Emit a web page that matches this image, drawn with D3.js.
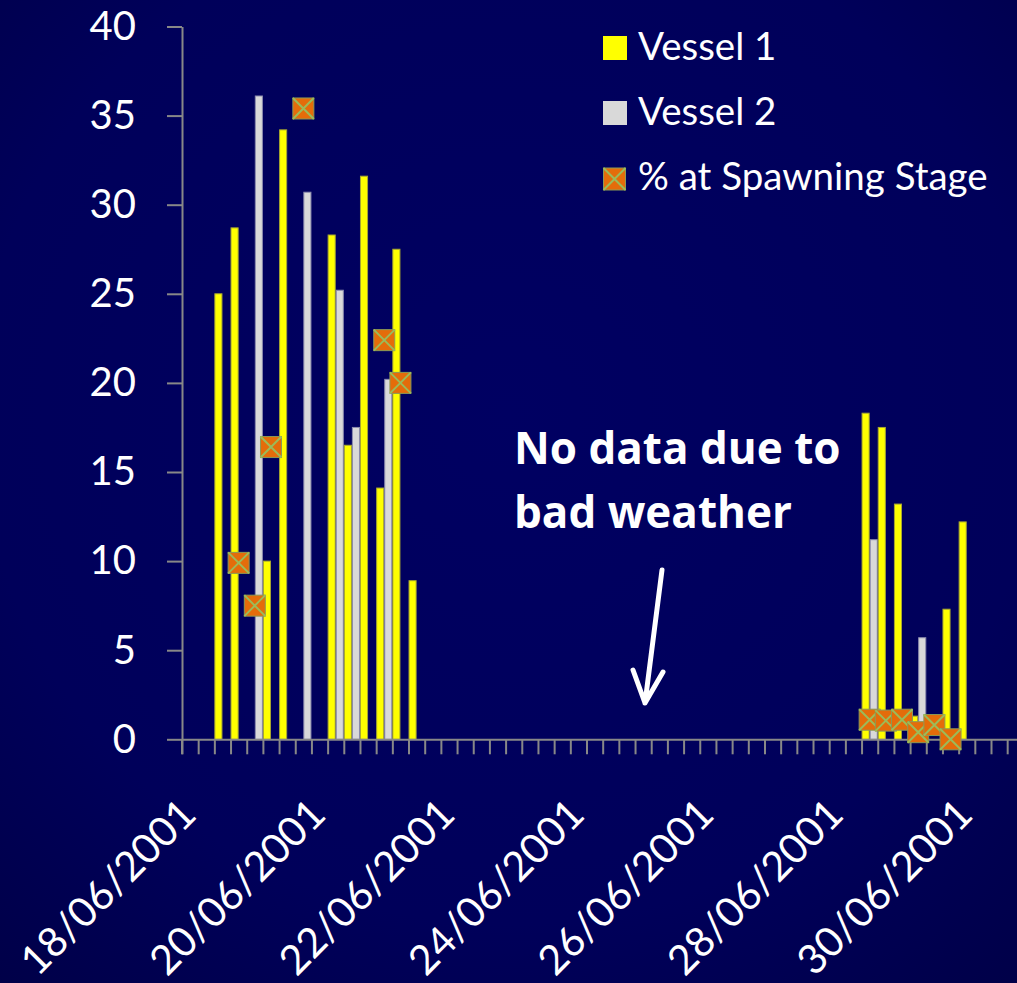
<!DOCTYPE html>
<html>
<head>
<meta charset="utf-8">
<script src="https://cdn.jsdelivr.net/npm/d3@7"></script>
<style>
  html, body { margin: 0; padding: 0; background: #000050; }
  svg { display: block; }
  text { font-family: Lato, "Open Sans", sans-serif; fill: #ffffff; }
  text.note { font-family: "Open Sans", Lato, sans-serif; font-weight: bold; font-size: 44px; }
</style>
</head>
<body>
<svg id="chart" width="1017" height="983"></svg>
<script>
// Sampling slots every 6 hours, 17/06/2001 18:00 to 30/06/2001 12:00
const slotStart = new Date(2001, 5, 17, 18);
const slotEnd = new Date(2001, 5, 30, 18);
const slotFormat = d3.timeFormat("%d/%m/%Y %H:%M");

// Catch per slot (null = no sample)
const vessel1 = [
  null, null, 25.0, 28.7, null, 10.0, 34.2, null, null, 28.3,
  16.5, 31.6, 14.1, 27.5, 8.9, null, null, null, null, null,
  null, null, null, null, null, null, null, null, null, null,
  null, null, null, null, null, null, null, null, null, null,
  null, null, 18.3, 17.5, 13.2, 1.3, null, 7.3, 12.2, null,
  null, null
];
const vessel2 = [
  null, null, null, null, 36.1, null, null, 30.7, null, 25.2,
  17.5, null, 20.2, null, null, null, null, null, null, null,
  null, null, null, null, null, null, null, null, null, null,
  null, null, null, null, null, null, null, null, null, null,
  null, null, 11.2, null, null, 5.7, null, null, null, null,
  null, null
];
const spawningPct = [
  null, null, null, 9.9, 7.5, 16.4, null, 35.4, null, null,
  null, null, 22.4, 20.0, null, null, null, null, null, null,
  null, null, null, null, null, null, null, null, null, null,
  null, null, null, null, null, null, null, null, null, null,
  null, null, 1.1, 1.05, 1.1, 0.4, 0.8, 0.0, null, null,
  null, null
];
const yTicks = [0, 5, 10, 15, 20, 25, 30, 35, 40];
const dateLabels = ["18/06/2001", "20/06/2001", "22/06/2001", "24/06/2001",
                    "26/06/2001", "28/06/2001", "30/06/2001"];
const seriesNames = ["Vessel 1", "Vessel 2", "% at Spawning Stage"];

const slots = d3.timeHour.every(6).range(slotStart, slotEnd).map(slotFormat);

const svg = d3.select("#chart");
const W = 1017, H = 983;

// Background
const defs = svg.append("defs");
const bg = defs.append("radialGradient").attr("id", "bg")
  .attr("cx", "50%").attr("cy", "42%").attr("r", "80%");
bg.append("stop").attr("offset", "0%").attr("stop-color", "#000062");
bg.append("stop").attr("offset", "65%").attr("stop-color", "#00005a");
bg.append("stop").attr("offset", "100%").attr("stop-color", "#000046");
svg.append("rect").attr("width", W).attr("height", H).attr("fill", "url(#bg)");

const x0 = 182, slotW = 16.18;
const x = d3.scaleBand().domain(slots).range([x0, x0 + slots.length * slotW])
  .paddingInner(0).paddingOuter(0);
const xEdge = d3.scaleLinear().domain([0, slots.length]).range(x.range());
const y = d3.scaleLinear().domain([0, 40]).range([739.3, 26.5]);
const sub = d3.scaleBand().domain(["v1", "v2"]).range([0, x.bandwidth()]);

const axisColor = "#888888";

// Bars
const g = svg.append("g");
const barData = [];
slots.forEach((s, i) => {
  if (vessel1[i] != null) barData.push({ slot: s, key: "v1", v: vessel1[i] });
  if (vessel2[i] != null) barData.push({ slot: s, key: "v2", v: vessel2[i] });
});
g.selectAll("rect.bar").data(barData).join("rect")
  .attr("class", "bar")
  .attr("x", d => x(d.slot) + sub(d.key) + 0.5)
  .attr("width", sub.bandwidth() - 1)
  .attr("y", d => y(d.v))
  .attr("height", d => y(0) - y(d.v))
  .attr("fill", d => d.key === "v1" ? "#ffff00" : "#d9d9d9")
  .attr("stroke", d => d.key === "v1" ? "#a8a830" : "#8c8cae")
  .attr("stroke-width", 1);

// Y axis
const yAxis = svg.append("g").attr("transform", `translate(${x0},0)`)
  .call(d3.axisLeft(y).tickValues(yTicks).tickSize(15).tickPadding(31).tickSizeOuter(0));
yAxis.select(".domain").attr("stroke", axisColor).attr("stroke-width", 2);
yAxis.selectAll(".tick line").attr("stroke", axisColor).attr("stroke-width", 2);
yAxis.selectAll(".tick text").attr("fill", "#fff")
  .style("font-family", "Lato, sans-serif").style("font-size", "40px");
yAxis.append("line").attr("x1", 0).attr("x2", 0).attr("y1", y(0)).attr("y2", y(0) + 15)
  .attr("stroke", axisColor).attr("stroke-width", 2);

// X axis (tick at each slot boundary)
const xAxis = svg.append("g").attr("transform", `translate(0,${y(0)})`)
  .call(d3.axisBottom(xEdge).tickValues(d3.range(slots.length + 1))
    .tickSize(15).tickFormat("").tickSizeOuter(0));
xAxis.select(".domain").attr("stroke", axisColor).attr("stroke-width", 2);
xAxis.selectAll(".tick line").attr("stroke", axisColor).attr("stroke-width", 2);

// Date labels, rotated
svg.append("g").selectAll("text").data(dateLabels).join("text")
  .each(function (d) {
    const s = d + " 00:00";
    const cx = x(s) + x.bandwidth() / 2 - 8;
    d3.select(this)
      .attr("transform", `translate(${cx},816.7) rotate(-45)`)
      .attr("text-anchor", "end")
      .style("font-size", "41px")
      .text(d);
  });

// Spawning markers: orange square with green cross
function marker(sel, size) {
  const h = size / 2;
  sel.append("rect").attr("x", -h).attr("y", -h).attr("width", size).attr("height", size)
    .attr("fill", "#e46c0a").attr("stroke", "#8c9a55").attr("stroke-width", 1);
  sel.append("path").attr("d", `M${-h},${-h}L${h},${h}M${h},${-h}L${-h},${h}`)
    .attr("stroke", "#9bbb59").attr("stroke-width", 2).attr("fill", "none");
}
const markerData = slots.map((s, i) => ({ slot: s, v: spawningPct[i] })).filter(d => d.v != null);
svg.append("g").selectAll("g").data(markerData).join("g")
  .attr("transform", d => `translate(${x(d.slot) + x.bandwidth() / 2},${y(d.v)})`)
  .each(function () { marker(d3.select(this), 21); });

// Legend
const legend = svg.append("g");
const rows = [
  { name: seriesNames[0], type: "sq", color: "#ffff00", top: 36, base: 60 },
  { name: seriesNames[1], type: "sq", color: "#d9d9d9", top: 101, base: 125 },
  { name: seriesNames[2], type: "mk", top: 168, base: 190 }
];
rows.forEach(r => {
  if (r.type === "sq") {
    legend.append("rect").attr("x", 603).attr("y", r.top).attr("width", 24).attr("height", 24)
      .attr("fill", r.color);
  } else {
    const m = legend.append("g").attr("transform", `translate(614.5,${r.top + 11})`);
    marker(m, 22);
  }
  legend.append("text").attr("x", 638).attr("y", r.base).style("font-size", "38.5px").text(r.name);
});

// Annotation
const note = svg.append("g");
note.append("text").attr("class", "note").attr("x", 514).attr("y", 464).text("No data due to");
note.append("text").attr("class", "note").attr("x", 514).attr("y", 528).text("bad weather");
note.append("path")
  .attr("d", "M662,570L645,703M633,670L645,703L663,672")
  .attr("stroke", "#fff").attr("stroke-width", 5).attr("fill", "none")
  .attr("stroke-linecap", "round").attr("stroke-linejoin", "round");
</script>
</body>
</html>
